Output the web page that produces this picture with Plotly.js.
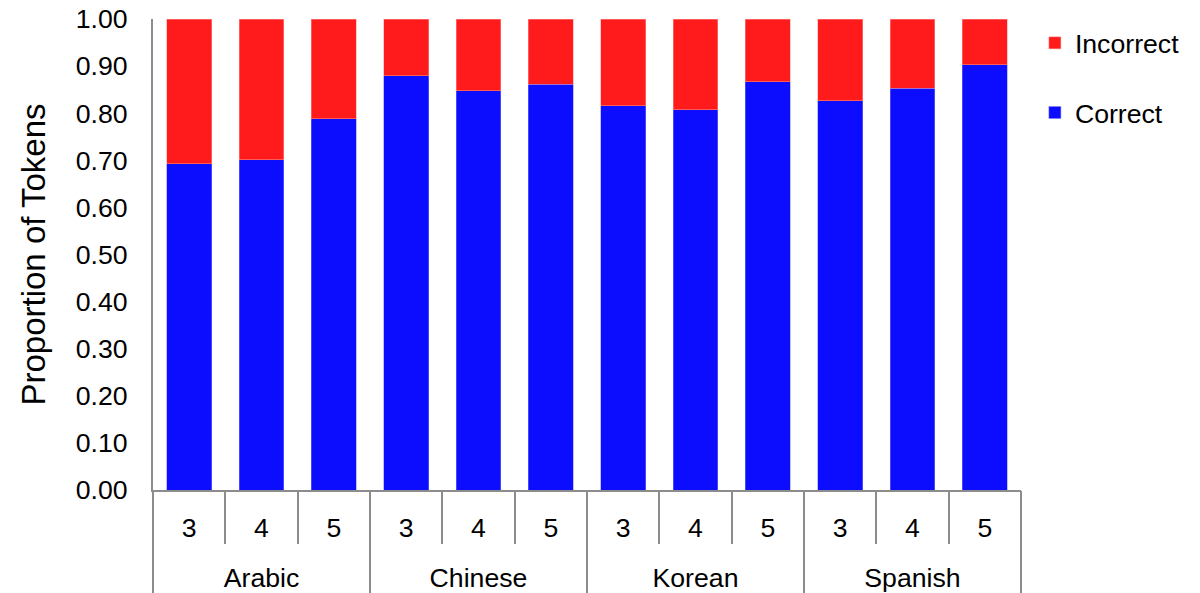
<!DOCTYPE html>
<html>
<head>
<meta charset="utf-8">
<script src="https://cdn.plot.ly/plotly-3.0.1.min.js"></script>
<style>html,body{margin:0;padding:0;background:#fff;}#chart{width:1200px;height:593px;}</style>
</head>
<body>
<div id="chart"></div>
<script>
const languages = ["Arabic","Arabic","Arabic","Chinese","Chinese","Chinese","Korean","Korean","Korean","Spanish","Spanish","Spanish"];
const levels = ["3","4","5","3","4","5","3","4","5","3","4","5"];
const groupNames = ["Arabic","Chinese","Korean","Spanish"];
const correct = [0.693, 0.701, 0.788, 0.880, 0.848, 0.862, 0.816, 0.807, 0.867, 0.826, 0.853, 0.903];
const incorrect = [0.307, 0.299, 0.212, 0.120, 0.152, 0.138, 0.184, 0.193, 0.133, 0.174, 0.147, 0.097];
const yTickVals = [0,0.1,0.2,0.3,0.4,0.5,0.6,0.7,0.8,0.9,1.0];

const ids = languages.map((g, i) => g + ' ' + levels[i]);
const axisGray = '#8c8c8c';
const font = 'Liberation Sans, Arial, sans-serif';
const fs = 26.67;

const traces = [
  {type:'bar', name:'Correct', x:ids, y:correct, xaxis:'x', yaxis:'y',
   marker:{color:'#0c0cff', line:{color:'#7f7fff', width:0.5}}, legendgroup:'c', legendrank:2},
  {type:'bar', name:'Incorrect', x:ids, y:incorrect, xaxis:'x', yaxis:'y',
   marker:{color:'#ff1b1b', line:{color:'#ff9a9a', width:0.5}}, legendgroup:'i', legendrank:1},
  // helper trace that only defines the group categories on the secondary axis
  {type:'bar', name:'groups', x:groupNames, y:groupNames.map(() => null), xaxis:'x2', yaxis:'y',
   showlegend:false, hoverinfo:'skip', legendrank:3}
];

const layout = {
  width:1200, height:593,
  margin:{l:153, r:179, t:19, b:103},
  barmode:'stack', bargap:0.38,
  paper_bgcolor:'#fff', plot_bgcolor:'#fff',
  font:{family:font, color:'#000', size:fs},
  showlegend:true,
  legend:{x:1.016, xanchor:'left', y:1.0, yanchor:'top', traceorder:'grouped',
          tracegroupgap:32, font:{family:font, size:fs, color:'#000'}, itemwidth:30,
          bgcolor:'rgba(0,0,0,0)'},
  xaxis:{type:'category', tickvals:ids, ticktext:levels, range:[-0.5, 11.5],
         showline:true, linecolor:axisGray, linewidth:2,
         ticks:'outside', tickson:'boundaries', ticklen:52, tickcolor:axisGray, tickwidth:2,
         ticklabelstandoff:13, automargin:false,
         tickfont:{family:font, size:fs, color:'#000'}, showgrid:false, zeroline:false},
  xaxis2:{type:'category', overlaying:'x', anchor:'y', side:'bottom', range:[-0.5, 3.5],
         categoryorder:'array', categoryarray:groupNames,
         showline:false, ticks:'outside', tickson:'boundaries', ticklen:103, tickcolor:axisGray, tickwidth:2,
         ticklabelstandoff:69, automargin:false,
         tickfont:{family:font, size:fs, color:'#000'}, showgrid:false, zeroline:false},
  yaxis:{range:[0,1], tickvals:yTickVals, tickformat:'.2f', showline:true, linecolor:axisGray, linewidth:2,
         ticks:'', ticklabelstandoff:18, showgrid:false, zeroline:false, automargin:false,
         tickfont:{family:font, size:fs, color:'#000'},
         title:{text:'Proportion of Tokens', font:{family:font, size:33, color:'#000'}, standoff:20}}
};

Plotly.newPlot('chart', traces, layout, {displayModeBar:false, staticPlot:true});
</script>
</body>
</html>
